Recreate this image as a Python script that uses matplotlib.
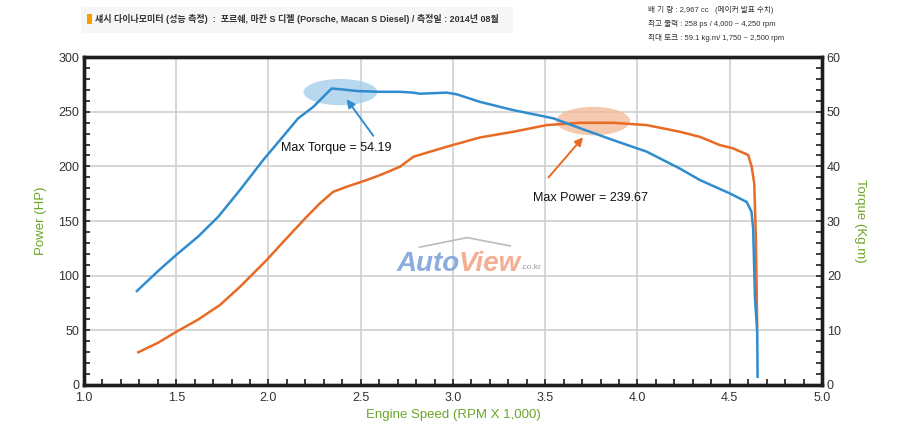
import numpy as np
import matplotlib
matplotlib.use('Agg')
import matplotlib.pyplot as plt
from matplotlib.patches import Ellipse, Rectangle
from matplotlib.lines import Line2D

plt.rcParams['font.family'] = ['Liberation Sans', 'Noto Sans CJK KR', 'DejaVu Sans']

# 토크 곡선 (Kg.m)
rpm_torque = [1.287, 1.40, 1.50, 1.62, 1.728, 1.846, 1.972, 2.062, 2.161, 2.243, 2.342,
              2.405, 2.478, 2.604, 2.713, 2.785, 2.82, 2.966, 3.02, 3.147, 3.327, 3.544,
              3.688, 3.869, 4.05, 4.23, 4.339, 4.501, 4.592, 4.618, 4.627, 4.637, 4.649, 4.651]
torque = [17.2, 20.8, 23.8, 27.2, 30.8, 35.7, 41.2, 44.8, 48.8, 50.9, 54.26,
          54.07, 53.8, 53.65, 53.65, 53.5, 53.3, 53.5, 53.2, 51.8, 50.3, 48.8,
          47.0, 44.8, 42.7, 39.6, 37.5, 35.05, 33.5, 31.7, 28.6, 15.8, 9.75, 1.5]

# 출력 곡선 (HP)
rpm_power = [1.294, 1.40, 1.502, 1.62, 1.737, 1.846, 1.99, 2.098, 2.207, 2.279, 2.351,
             2.424, 2.532, 2.604, 2.713, 2.785, 2.966, 3.147, 3.327, 3.508, 3.688, 3.869,
             4.05, 4.23, 4.339, 4.447, 4.519, 4.6, 4.619, 4.633, 4.642, 4.649]
power = [29.9, 38.5, 48.8, 60.0, 73.2, 89.9, 114.3, 134.2, 153.9, 166.2, 176.8,
         181.4, 187.5, 192.0, 199.7, 208.8, 218.0, 226.5, 231.7, 237.8, 239.9, 239.9,
         237.8, 231.7, 227.0, 219.5, 216.5, 210.4, 199.7, 184.4, 132.6, 53.3]

x_ticks = [1.0, 1.5, 2.0, 2.5, 3.0, 3.5, 4.0, 4.5, 5.0]
hp_ticks = [0, 50, 100, 150, 200, 250, 300]
tq_ticks = [0, 10, 20, 30, 40, 50, 60]

blue = '#2f8ccf'
orange = '#e86a24'
green = '#6aa527'
spine_c = '#1e1e1e'

fig = plt.figure(figsize=(9, 4.36), dpi=100)
ax = fig.add_axes([0.0933, 0.117, 0.82, 0.752])
ax2 = ax.twinx()

ax.set_xlim(1.0, 5.0)
ax.set_ylim(0, 300)
ax2.set_ylim(0, 60)

ax.set_xticks(x_ticks)
ax.set_xticklabels([f'{v:.1f}' for v in x_ticks])
ax.set_xticks(np.arange(1.0, 5.0001, 0.1), minor=True)
ax.set_yticks(hp_ticks)
ax.set_yticks(np.arange(0, 301, 10), minor=True)
ax2.set_yticks(tq_ticks)
ax2.set_yticks(np.arange(0, 61, 2), minor=True)

ax.grid(True, which='major', color='#cfcfcf', lw=1.2)
ax.set_axisbelow(True)

for a in (ax, ax2):
    for s in a.spines.values():
        s.set_linewidth(2.4)
        s.set_color(spine_c)
ax.tick_params(which='both', direction='in', length=4, width=1.2, color=spine_c,
               labelsize=9, labelcolor='#333333', top=False)
ax2.tick_params(which='both', direction='in', length=4, width=1.2, color=spine_c,
                labelsize=9, labelcolor='#333333')
ax.tick_params(axis='x', pad=5)

ax.set_ylabel('Power (HP)', color=green, fontsize=9.5, labelpad=8)
ax2.set_ylabel('Torque (Kg.m)', color=green, fontsize=9.5, rotation=270, labelpad=18)
ax.set_xlabel('Engine Speed (RPM X 1,000)', color=green, fontsize=9.5, labelpad=4)

# 하이라이트 타원
ax.add_patch(Ellipse((2.39, 268), 0.40, 24, color='#9fcbe9', alpha=0.75, lw=0, zorder=2))
ax.add_patch(Ellipse((3.76, 241.5), 0.40, 26, color='#f2b896', alpha=0.75, lw=0, zorder=2))

ax.plot(rpm_power, power, color=orange, lw=1.8, zorder=3)
ax2.plot(rpm_torque, torque, color=blue, lw=1.8, zorder=3)

# 주석
ax.annotate('', xy=(2.415, 263.5), xytext=(2.577, 226),
            arrowprops=dict(arrowstyle='-|>', color=blue, lw=1.4, mutation_scale=12), zorder=5)
ax.text(2.366, 216.5, 'Max Torque = 54.19', fontsize=9, ha='center', va='center',
        color='#111111', zorder=5)
ax.annotate('', xy=(3.715, 228.5), xytext=(3.508, 188),
            arrowprops=dict(arrowstyle='-|>', color=orange, lw=1.4, mutation_scale=12), zorder=5)
ax.text(3.748, 171, 'Max Power = 239.67', fontsize=9, ha='center', va='center',
        color='#111111', zorder=5)

# 워터마크
fig.add_artist(Line2D([0.466, 0.519, 0.567], [0.433, 0.455, 0.436],
                      transform=fig.transFigure, color='#bbbbbb', lw=1.2))
t1 = fig.text(0.441, 0.378, 'Auto', fontsize=20, fontweight='bold', style='italic',
              color='#6f98d6', alpha=0.8)
fig.canvas.draw()
bb = t1.get_window_extent()
x_next = bb.x1 / fig.bbox.width
t2 = fig.text(x_next - 0.002, 0.378, 'View', fontsize=20, fontweight='bold', style='italic',
              color='#f09a7a', alpha=0.8)
fig.canvas.draw()
bb2 = t2.get_window_extent()
fig.text(bb2.x1 / fig.bbox.width, 0.382, '.co.kr', fontsize=6, color='#999999')

# 상단 제목
fig.patches.append(Rectangle((0.09, 0.925), 0.48, 0.06, transform=fig.transFigure,
                             facecolor='#f6f6f6', edgecolor='none'))
fig.patches.append(Rectangle((0.0967, 0.945), 0.0055, 0.022, transform=fig.transFigure,
                             facecolor='#f5a000', edgecolor='none'))
fig.text(0.106, 0.956, '섀시 다이나모미터 (성능 측정)  :  포르쉐, 마칸 S 디젤 (Porsche, Macan S Diesel) / 측정일 : 2014년 08월',
         fontsize=6.5, color='#333333', va='center', fontweight='bold')

fig.text(0.72, 0.977, '배 기 량 : 2,967 cc   (메이커 발표 수치)', fontsize=5.5, color='#333333', va='center')
fig.text(0.72, 0.945, '최고 출력 : 258 ps / 4,000 ~ 4,250 rpm', fontsize=5.5, color='#333333', va='center')
fig.text(0.72, 0.913, '최대 토크 : 59.1 kg.m/ 1,750 ~ 2,500 rpm', fontsize=5.5, color='#333333', va='center')

fig.savefig('out.png', dpi=100)
